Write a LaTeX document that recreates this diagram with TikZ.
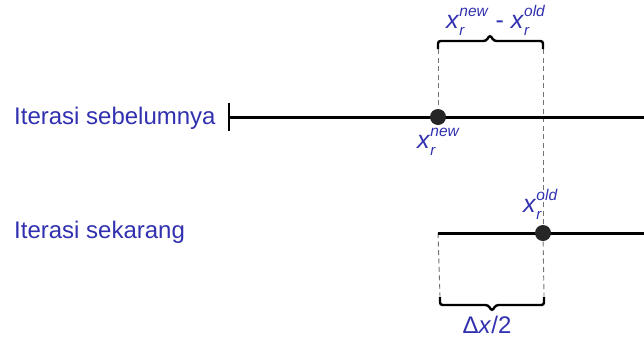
\documentclass[tikz,border=0pt]{standalone}
\usepackage{fontspec}
\setmainfont{Liberation Sans}
\definecolor{lblblue}{RGB}{48,48,176}
\newcommand\xrlab[1]{\textit{x}\rlap{\raisebox{-0.3em}{\fontsize{15}{15}\selectfont\textit{r}}}\raisebox{0.48em}{\fontsize{15.5}{15.5}\selectfont\textit{#1}}}
\begin{document}
\begin{tikzpicture}[x=1pt,y=-1pt,
  axis/.style={line width=3pt,black},
  tickline/.style={line width=2pt,black},
  guide/.style={dash pattern=on 5pt off 3.5pt,black!55,line width=0.9pt},
  bracestyle/.style={line width=2.4pt,black,rounded corners=2.5pt},
  dotstyle/.style={circle,fill=black!85,inner sep=0pt,minimum size=16pt},
  lbl/.style={text=lblblue,font=\fontsize{24}{24}\selectfont,inner sep=0pt},
  mlbl/.style={text=lblblue,font=\fontsize{25}{25}\selectfont,inner sep=0pt}]
\useasboundingbox (0,0) rectangle (644,338);
% coordinates
\coordinate (a1s) at (229,117);
\coordinate (a1e) at (644,117);
\coordinate (tk1) at (229,103);
\coordinate (tk2) at (229,131);
\coordinate (a2s) at (438,233);
\coordinate (a2e) at (644,233);
\coordinate (tbl) at (438,49);
\coordinate (tbr) at (543,49);
\coordinate (bbl) at (440,297);
\coordinate (bbr) at (544,297);
% guides
\draw[guide] (tbl) -- (438,117);
\draw[guide] (tbr) -- (543,233);
\draw[guide] (a2s) -- (bbl);
\draw[guide] (543,233) -- (bbr);
% axes
\draw[axis] (a1s) -- (a1e);
\draw[tickline] (tk1) -- (tk2);
\draw[axis] (a2s) -- (a2e);
% dots
\node[dotstyle] (dnew) at (438,117) {};
\node[dotstyle] (dold) at (543,233) {};
% braces
\draw[bracestyle] (tbl) -- (438,41) -- (486,41) -- (490,35) -- (494,41) -- (543,41) -- (tbr);
\draw[bracestyle] (bbl) -- (440,305) -- (488,305) -- (492,311) -- (496,305) -- (544,305) -- (bbr);
% labels
\node[lbl,anchor=west] (it1) at (14,118) {Iterasi sebelumnya};
\node[lbl,anchor=west] (it2) at (14,232) {Iterasi sekarang};
\node[mlbl,anchor=base west] (ldiff) at (446,28) {\xrlab{new}\ - \xrlab{old}};
\node[mlbl,anchor=base west] (lnew) at (417,148) {\xrlab{new}};
\node[mlbl,anchor=base west] (lold) at (523,212) {\xrlab{old}};
\node[lbl,anchor=base] (ldx) at (487,333) {Δ\textit{x}/2};
\end{tikzpicture}
\end{document}
